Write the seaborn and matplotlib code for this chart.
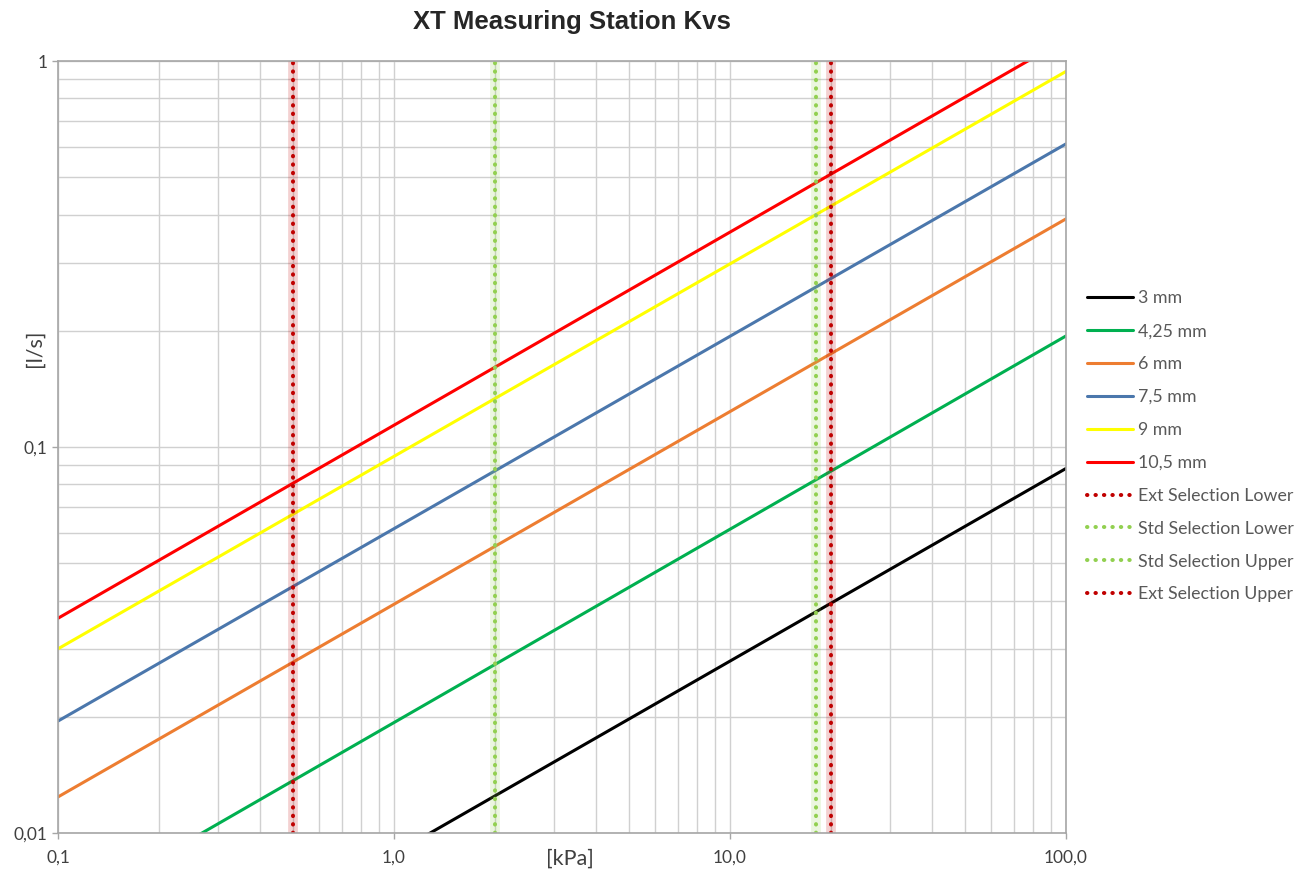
import pandas as pd
import matplotlib.pyplot as plt
import seaborn as sns

# Flow [l/s] read at both ends of the pressure range [kPa]
x_kpa = [0.1, 100]
q_3 = [0.0028, 0.088]
q_425 = [0.0061, 0.194]
q_6 = [0.0124, 0.39]
q_75 = [0.0195, 0.61]
q_9 = [0.030, 0.94]
q_105 = [0.036, 1.14]

series_names = ["3 mm", "4,25 mm", "6 mm", "7,5 mm", "9 mm", "10,5 mm"]
series_values = [q_3, q_425, q_6, q_75, q_9, q_105]
series_colors = ["#000000", "#00B050", "#ED7D31", "#4B77AC", "#FFFF00", "#FF0000"]

# Selection limits [kPa]
limit_names = ["Ext Selection Lower", "Std Selection Lower", "Std Selection Upper", "Ext Selection Upper"]
limit_values = [0.5, 2.0, 18.0, 20.0]
limit_colors = ["#C00000", "#92D050", "#92D050", "#C00000"]

x_ticks = [0.1, 1, 10, 100]
x_tick_labels = ["0,1", "1,0", "10,0", "100,0"]
y_ticks = [0.01, 0.1, 1]
y_tick_labels = ["0,01", "0,1", "1"]

sns.set_style("white")
plt.rcParams['font.family'] = ['Lato', 'DejaVu Sans']

fig = plt.figure(figsize=(13, 8.73), dpi=100)
ax = fig.add_axes([0.0446, 0.0458, 0.7754, 0.8843])

rows = []
for name, vals in zip(series_names, series_values):
    for x, y in zip(x_kpa, vals):
        rows.append({"kPa": x, "ls": y, "size": name})
df = pd.DataFrame(rows)

sns.lineplot(data=df, x="kPa", y="ls", hue="size", hue_order=series_names,
             palette=series_colors, linewidth=2.2, legend=False, ax=ax)

ax.set_xscale("log")
ax.set_yscale("log")

# Selection limits with a soft glow behind the dotted line
dots = (0, (0.1, 2.0))
for v, c in zip(limit_values, limit_colors):
    ax.axvline(v, color=c, linewidth=7, alpha=0.18, solid_capstyle="butt")
for v, c in zip(limit_values, limit_colors):
    ax.axvline(v, color=c, linewidth=2.9, linestyle=dots, dash_capstyle="round")

ax.set_xlim(0.1, 100)
ax.set_ylim(0.01, 1)

ax.grid(True, which="both", color="#D0D0D0", linewidth=1)
ax.set_axisbelow(True)
for s in ax.spines.values():
    s.set_color("#A6A6A6")
    s.set_linewidth(1.2)

ax.set_xticks(x_ticks, x_tick_labels)
ax.set_yticks(y_ticks, y_tick_labels)
ax.tick_params(which="major", length=4, width=1, color="#A6A6A6",
               labelsize=12.5, labelcolor="#404040", direction="out",
               bottom=True, left=True)
ax.tick_params(which="minor", length=0)
ax.tick_params(axis="x", pad=8)
ax.set_xlabel("")
ax.set_ylabel("")

fig.text(570 / 1300, 1 - 859 / 873, "[kPa]", ha="center", va="center",
         fontsize=15.5, color="#404040")
fig.text(35 / 1300, 1 - 348 / 873, "[l/s]", ha="center", va="center",
         rotation=90, fontsize=15.5, color="#404040")

fig.text(572 / 1300, 1 - 22 / 873, "XT Measuring Station Kvs", ha="center", va="center",
         fontsize=18.5, fontweight="bold", family="Liberation Sans")

handles = []
for name, c in zip(series_names, series_colors):
    handles.append(plt.Line2D([], [], color=c, linewidth=2.2, label=name))
for name, c in zip(limit_names, limit_colors):
    handles.append(plt.Line2D([], [], color=c, linewidth=2.9, linestyle=dots,
                              dash_capstyle="round", label=name))
leg = fig.legend(handles=handles, loc="center left", bbox_to_anchor=(0.836, 0.4886),
                 frameon=False, fontsize=12.8, handlelength=2.6, handletextpad=0.3,
                 labelspacing=0.95, borderpad=0, borderaxespad=0)
for t in leg.get_texts():
    t.set_color("#595959")

plt.savefig("out.png", dpi=100)
